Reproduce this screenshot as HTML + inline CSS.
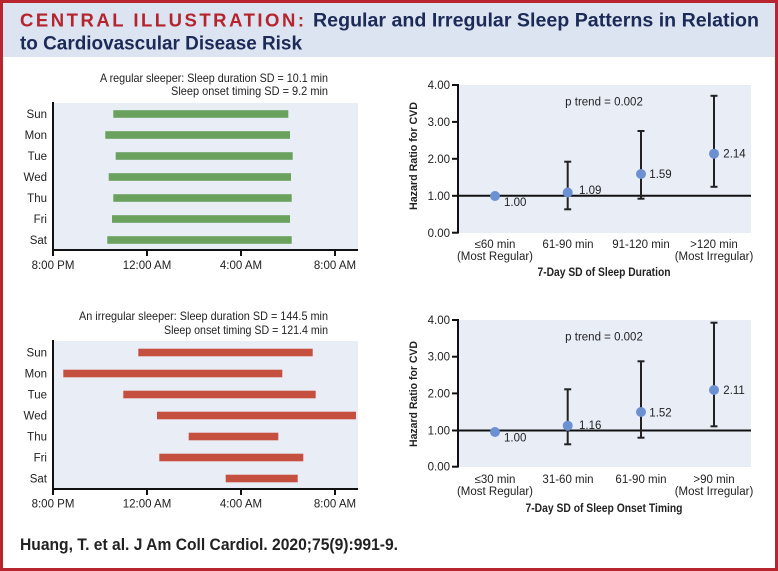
<!DOCTYPE html>
<html><head><meta charset="utf-8"><style>
html,body{margin:0;padding:0;background:#fff;}
svg{display:block;}
text{font-family:"Liberation Sans",sans-serif;fill:#222;}
</style></head><body>
<svg width="778" height="571" viewBox="0 0 778 571" xmlns="http://www.w3.org/2000/svg">
<rect x="0" y="0" width="778" height="571" fill="#fff"/>
<rect x="0" y="0" width="778" height="57" fill="#dce3f1"/>
<rect x="1.5" y="1.5" width="775" height="568" fill="none" stroke="#b8252f" stroke-width="3"/>
<text x="20" y="26.7" font-size="18.5" font-weight="bold" style="fill:#b5232d" textLength="284" lengthAdjust="spacing">CENTRAL ILLUSTRATION:</text>
<text x="313" y="26.7" font-size="19" font-weight="bold" style="fill:#1b2a57" textLength="446" lengthAdjust="spacingAndGlyphs">Regular and Irregular Sleep Patterns in Relation</text>
<text x="20" y="49.3" font-size="19" font-weight="bold" style="fill:#1b2a57" textLength="282" lengthAdjust="spacingAndGlyphs">to Cardiovascular Disease Risk</text>

<!-- Top-left chart -->
<text x="328" y="82" font-size="12" text-anchor="end" textLength="228" lengthAdjust="spacingAndGlyphs">A regular sleeper: Sleep duration SD = 10.1 min</text>
<text x="328" y="95" font-size="12" text-anchor="end" textLength="157" lengthAdjust="spacingAndGlyphs">Sleep onset timing SD = 9.2 min</text>
<rect x="53" y="103" width="305" height="147" fill="#e8edf6"/>
<g fill="#69a15d">
<rect x="113.3" y="110.2" width="175" height="7.6"/>
<rect x="105.3" y="131.2" width="184.7" height="7.6"/>
<rect x="115.7" y="152.2" width="177" height="7.6"/>
<rect x="108.7" y="173.2" width="182.3" height="7.6"/>
<rect x="113.3" y="194.2" width="178.4" height="7.6"/>
<rect x="112" y="215.2" width="178" height="7.6"/>
<rect x="107.3" y="236.2" width="184.4" height="7.6"/>
</g>
<g stroke="#111" stroke-width="2" fill="none">
<line x1="53" y1="102" x2="53" y2="256"/>
<line x1="52" y1="250" x2="358" y2="250"/>
<line x1="147" y1="250" x2="147" y2="256"/>
<line x1="241" y1="250" x2="241" y2="256"/>
<line x1="335" y1="250" x2="335" y2="256"/>
</g>
<g font-size="11.5" text-anchor="end">
<text x="47" y="118">Sun</text>
<text x="47" y="139">Mon</text>
<text x="47" y="160">Tue</text>
<text x="47" y="181">Wed</text>
<text x="47" y="202">Thu</text>
<text x="47" y="223">Fri</text>
<text x="47" y="244">Sat</text>
</g>
<g font-size="11.5" text-anchor="middle">
<text x="53" y="269">8:00 PM</text>
<text x="147" y="269">12:00 AM</text>
<text x="241" y="269">4:00 AM</text>
<text x="335" y="269">8:00 AM</text>
</g>

<!-- Bottom-left chart -->
<text x="328" y="320" font-size="12" text-anchor="end" textLength="249" lengthAdjust="spacingAndGlyphs">An irregular sleeper: Sleep duration SD = 144.5 min</text>
<text x="328" y="334" font-size="12" text-anchor="end" textLength="164" lengthAdjust="spacingAndGlyphs">Sleep onset timing SD = 121.4 min</text>
<rect x="53" y="341" width="305" height="148" fill="#e8edf6"/>
<g fill="#c5503f">
<rect x="138.3" y="348.7" width="174.4" height="7.6"/>
<rect x="63.3" y="369.7" width="219" height="7.6"/>
<rect x="123.3" y="390.7" width="192.4" height="7.6"/>
<rect x="157" y="411.7" width="199" height="7.6"/>
<rect x="188.7" y="432.7" width="89.6" height="7.6"/>
<rect x="159.3" y="453.7" width="144" height="7.6"/>
<rect x="225.7" y="474.7" width="72" height="7.6"/>
</g>
<g stroke="#111" stroke-width="2" fill="none">
<line x1="53" y1="340" x2="53" y2="495"/>
<line x1="52" y1="489" x2="358" y2="489"/>
<line x1="147" y1="489" x2="147" y2="495"/>
<line x1="241" y1="489" x2="241" y2="495"/>
<line x1="335" y1="489" x2="335" y2="495"/>
</g>
<g font-size="11.5" text-anchor="end">
<text x="47" y="356.5">Sun</text>
<text x="47" y="377.5">Mon</text>
<text x="47" y="398.5">Tue</text>
<text x="47" y="419.5">Wed</text>
<text x="47" y="440.5">Thu</text>
<text x="47" y="461.5">Fri</text>
<text x="47" y="482.5">Sat</text>
</g>
<g font-size="11.5" text-anchor="middle">
<text x="53" y="507.5">8:00 PM</text>
<text x="147" y="507.5">12:00 AM</text>
<text x="241" y="507.5">4:00 AM</text>
<text x="335" y="507.5">8:00 AM</text>
</g>

<!-- Top-right chart -->
<rect x="458" y="85" width="293" height="148" fill="#e8edf6"/>
<line x1="458" y1="195.8" x2="751" y2="195.8" stroke="#111" stroke-width="2"/>
<g stroke="#111" stroke-width="2">
<line x1="458" y1="84" x2="458" y2="233.5"/>
<line x1="452" y1="85" x2="458" y2="85"/>
<line x1="452" y1="121.9" x2="458" y2="121.9"/>
<line x1="452" y1="158.8" x2="458" y2="158.8"/>
<line x1="452" y1="195.8" x2="458" y2="195.8"/>
<line x1="452" y1="232.7" x2="458" y2="232.7"/>
</g>
<g font-size="11.5" text-anchor="end">
<text x="450" y="89">4.00</text>
<text x="450" y="126">3.00</text>
<text x="450" y="163">2.00</text>
<text x="450" y="200">1.00</text>
<text x="450" y="237">0.00</text>
</g>
<text transform="translate(417,156) rotate(-90)" font-size="11" font-weight="bold" text-anchor="middle" textLength="108" lengthAdjust="spacingAndGlyphs">Hazard Ratio for CVD</text>
<g stroke="#222" stroke-width="2">
<line x1="567.7" y1="161.7" x2="567.7" y2="209.3"/><line x1="564.2" y1="161.7" x2="571.2" y2="161.7"/><line x1="564.2" y1="209.3" x2="571.2" y2="209.3"/>
<line x1="641" y1="131" x2="641" y2="198.7"/><line x1="637.5" y1="131" x2="644.5" y2="131"/><line x1="637.5" y1="198.7" x2="644.5" y2="198.7"/>
<line x1="714" y1="95.8" x2="714" y2="186.8"/><line x1="710.5" y1="95.8" x2="717.5" y2="95.8"/><line x1="710.5" y1="186.8" x2="717.5" y2="186.8"/>
</g>
<g fill="#6b91d3">
<circle cx="495" cy="196" r="5"/>
<circle cx="567.7" cy="192.5" r="5"/>
<circle cx="641" cy="174" r="5"/>
<circle cx="714" cy="153.7" r="5"/>
</g>
<g font-size="11.5">
<text x="504" y="206">1.00</text>
<text x="579" y="194">1.09</text>
<text x="649.3" y="178">1.59</text>
<text x="723.3" y="157.5">2.14</text>
</g>
<text x="604" y="105.5" font-size="11.5" text-anchor="middle">p trend = 0.002</text>
<g font-size="11.5" text-anchor="middle">
<text x="495" y="248">≤60 min</text>
<text x="495" y="260">(Most Regular)</text>
<text x="568" y="248">61-90 min</text>
<text x="641" y="248">91-120 min</text>
<text x="714" y="248">&gt;120 min</text>
<text x="714" y="260">(Most Irregular)</text>
</g>
<text x="604" y="276" font-size="11.5" font-weight="bold" text-anchor="middle" textLength="133" lengthAdjust="spacingAndGlyphs">7-Day SD of Sleep Duration</text>

<!-- Bottom-right chart -->
<rect x="458" y="320" width="293" height="147" fill="#e8edf6"/>
<line x1="458" y1="430.5" x2="751" y2="430.5" stroke="#111" stroke-width="2"/>
<g stroke="#111" stroke-width="2">
<line x1="458" y1="319" x2="458" y2="467.5"/>
<line x1="452" y1="320" x2="458" y2="320"/>
<line x1="452" y1="356.7" x2="458" y2="356.7"/>
<line x1="452" y1="393.4" x2="458" y2="393.4"/>
<line x1="452" y1="430.5" x2="458" y2="430.5"/>
<line x1="452" y1="466.7" x2="458" y2="466.7"/>
</g>
<g font-size="11.5" text-anchor="end">
<text x="450" y="324">4.00</text>
<text x="450" y="360.7">3.00</text>
<text x="450" y="397.4">2.00</text>
<text x="450" y="434.5">1.00</text>
<text x="450" y="470.7">0.00</text>
</g>
<text transform="translate(417,394) rotate(-90)" font-size="11" font-weight="bold" text-anchor="middle" textLength="106" lengthAdjust="spacingAndGlyphs">Hazard Ratio for CVD</text>
<g stroke="#222" stroke-width="2">
<line x1="567.7" y1="389.3" x2="567.7" y2="444.3"/><line x1="564.2" y1="389.3" x2="571.2" y2="389.3"/><line x1="564.2" y1="444.3" x2="571.2" y2="444.3"/>
<line x1="641" y1="361.3" x2="641" y2="437.7"/><line x1="637.5" y1="361.3" x2="644.5" y2="361.3"/><line x1="637.5" y1="437.7" x2="644.5" y2="437.7"/>
<line x1="714" y1="322.7" x2="714" y2="426.3"/><line x1="710.5" y1="322.7" x2="717.5" y2="322.7"/><line x1="710.5" y1="426.3" x2="717.5" y2="426.3"/>
</g>
<g fill="#6b91d3">
<circle cx="495" cy="432" r="5"/>
<circle cx="567.7" cy="425.7" r="5"/>
<circle cx="641" cy="412" r="5"/>
<circle cx="714" cy="390" r="5"/>
</g>
<g font-size="11.5">
<text x="504" y="441.5">1.00</text>
<text x="579" y="429">1.16</text>
<text x="649.3" y="416.5">1.52</text>
<text x="723.3" y="394">2.11</text>
</g>
<text x="604" y="340.5" font-size="11.5" text-anchor="middle">p trend = 0.002</text>
<g font-size="11.5" text-anchor="middle">
<text x="495" y="483">≤30 min</text>
<text x="495" y="495">(Most Regular)</text>
<text x="568" y="483">31-60 min</text>
<text x="641" y="483">61-90 min</text>
<text x="714" y="483">&gt;90 min</text>
<text x="714" y="495">(Most Irregular)</text>
</g>
<text x="604" y="512" font-size="11.5" font-weight="bold" text-anchor="middle" textLength="157" lengthAdjust="spacingAndGlyphs">7-Day SD of Sleep Onset Timing</text>

<text x="20" y="550" font-size="17" font-weight="bold" textLength="378" lengthAdjust="spacingAndGlyphs">Huang, T. et al. J Am Coll Cardiol. 2020;75(9):991-9.</text>
</svg>
</body></html>
